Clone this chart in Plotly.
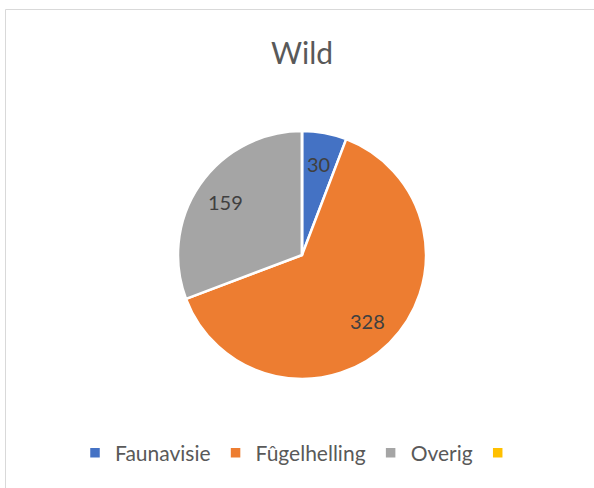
import math
import plotly.graph_objects as go

labels = ["Faunavisie", "Fûgelhelling", "Overig", " "]
values = [30, 328, 159, 0]
label_text = ["30", "328", "159", ""]
colors = ["#4472C4", "#ED7D31", "#A5A5A5", "#FFC000"]

W, H = 594, 488
cx, cy, r = 302, 255, 124
label_radius = 0.75

fig = go.Figure(go.Pie(
    labels=labels,
    values=values,
    textinfo="none",
    sort=False,
    direction="clockwise",
    rotation=0,
    marker=dict(colors=colors, line=dict(color="white", width=2.5)),
    domain=dict(x=[(cx - 200) / W, (cx + 200) / W],
                y=[(H - cy - r) / H, (H - cy + r) / H]),
    hoverinfo="label+value",
))

# data labels placed at the middle angle of each slice (Excel best-fit style)
total = sum(values)
annotations = []
cum = 0
for v, t in zip(values, label_text):
    mid = (cum + v / 2) / total * 2 * math.pi
    cum += v
    if not t:
        continue
    px = cx + label_radius * r * math.sin(mid)
    py = cy - label_radius * r * math.cos(mid)
    annotations.append(dict(x=px / W, y=(H - py) / H, xref="paper", yref="paper",
                            text=t, showarrow=False, xanchor="center", yanchor="middle",
                            font=dict(family="Lato, Noto Sans, sans-serif", size=20, color="#404040")))

fig.update_layout(
    width=W, height=H,
    margin=dict(l=0, r=0, t=0, b=0),
    paper_bgcolor="white",
    plot_bgcolor="white",
    font=dict(family="Lato, Noto Sans, sans-serif", color="#595959"),
    title=dict(text="Wild", x=cx / W, xanchor="center", y=(H - 53) / H, yanchor="middle",
               font=dict(size=30, color="#595959")),
    showlegend=True,
    legend=dict(orientation="h", x=cx / W, xanchor="center", y=(H - 453) / H, yanchor="middle",
                font=dict(size=21, color="#595959"), itemwidth=30, traceorder="normal"),
    annotations=annotations,
    shapes=[dict(type="rect", xref="paper", yref="paper",
                 x0=5.5 / W, x1=1.05, y0=-0.05, y1=(H - 9.5) / H,
                 line=dict(color="#D9D9D9", width=1), fillcolor="rgba(0,0,0,0)", layer="below")],
)

fig.write_html("out.html", config={"displayModeBar": False},
               post_script="document.body.style.margin='0';")
